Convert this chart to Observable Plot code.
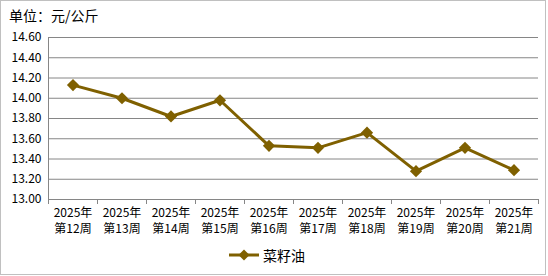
<!DOCTYPE html>
<html><head><meta charset="utf-8">
<script src="https://cdn.jsdelivr.net/npm/d3@7"></script>
<script src="https://cdn.jsdelivr.net/npm/@observablehq/plot@0.6"></script>
<style>
body{margin:0;background:#fff;}
#wrap{position:relative;width:548px;height:276px;font-family:"Noto Sans CJK SC",sans-serif;color:#000;}
#frame{position:absolute;left:0;top:0;width:546px;height:275px;box-sizing:border-box;border:1px solid #c0c0c0;}
#title{position:absolute;left:9px;top:5px;font-size:14px;line-height:20px;}
#plot{position:absolute;left:0;top:0;}
#legend{position:absolute;left:229px;top:245px;font-size:14px;line-height:20px;display:flex;align-items:center;}
#legend svg{margin-right:4px;}
</style>
</head><body>
<div id="wrap">
  <div id="frame"></div>
  <div id="plot"></div>
  <div id="title">单位：元/公斤</div>
  <div id="legend"></div>
</div>
<script>
const weeks = ["2025年\n第12周","2025年\n第13周","2025年\n第14周","2025年\n第15周","2025年\n第16周","2025年\n第17周","2025年\n第18周","2025年\n第19周","2025年\n第20周","2025年\n第21周"];
const prices = [14.13, 14.00, 13.82, 13.98, 13.53, 13.51, 13.66, 13.28, 13.51, 13.29];
const yTicks = [13.0, 13.2, 13.4, 13.6, 13.8, 14.0, 14.2, 14.4, 14.6];
const seriesName = "菜籽油";
const color = "#7f6000";
const gray = "#868686";

const data = weeks.map((w, i) => ({week: w, idx: i + 0.5, price: prices[i]}));
const boundaries = d3.range(weeks.length + 1);

const chart = Plot.plot({
  width: 548,
  height: 276,
  marginLeft: 48,
  marginRight: 10,
  marginTop: 37,
  marginBottom: 77,
  style: {fontFamily: '"Noto Sans CJK SC", sans-serif', fontSize: "12px", color: "#000", background: "transparent"},
  x: {type: "linear", domain: [0, weeks.length], label: null},
  y: {domain: [13, 14.6], label: null},
  marks: [
    Plot.gridY(yTicks, {stroke: gray, strokeOpacity: 1}),
    Plot.axisY(yTicks, {tickSize: 0, tickPadding: 7, tickFormat: d => d.toFixed(2), fontSize: 12, label: null}),
    Plot.ruleX([0], {stroke: gray}),
    Plot.ruleY([13], {stroke: gray}),
    Plot.axisX(boundaries, {tickSize: 5, stroke: gray, tickFormat: () => "", label: null}),
    Plot.text(data, {x: "idx", y: () => 13, text: "week", dy: 6, lineAnchor: "top", lineHeight: 1.35, fontSize: 12}),
    Plot.line(data, {x: "idx", y: "price", stroke: color, strokeWidth: 3}),
    Plot.dot(data, {x: "idx", y: "price", symbol: "diamond2", r: 5.5, fill: color, stroke: "none"})
  ]
});
document.getElementById("plot").appendChild(chart);

const legend = document.getElementById("legend");
legend.innerHTML = `<svg width="30" height="12"><line x1="0" x2="30" y1="6" y2="6" stroke="${color}" stroke-width="3"/><path d="M15,0.5L20.5,6L15,11.5L9.5,6Z" fill="${color}"/></svg><span></span>`;
legend.querySelector("span").textContent = seriesName;
</script>
</body></html>
